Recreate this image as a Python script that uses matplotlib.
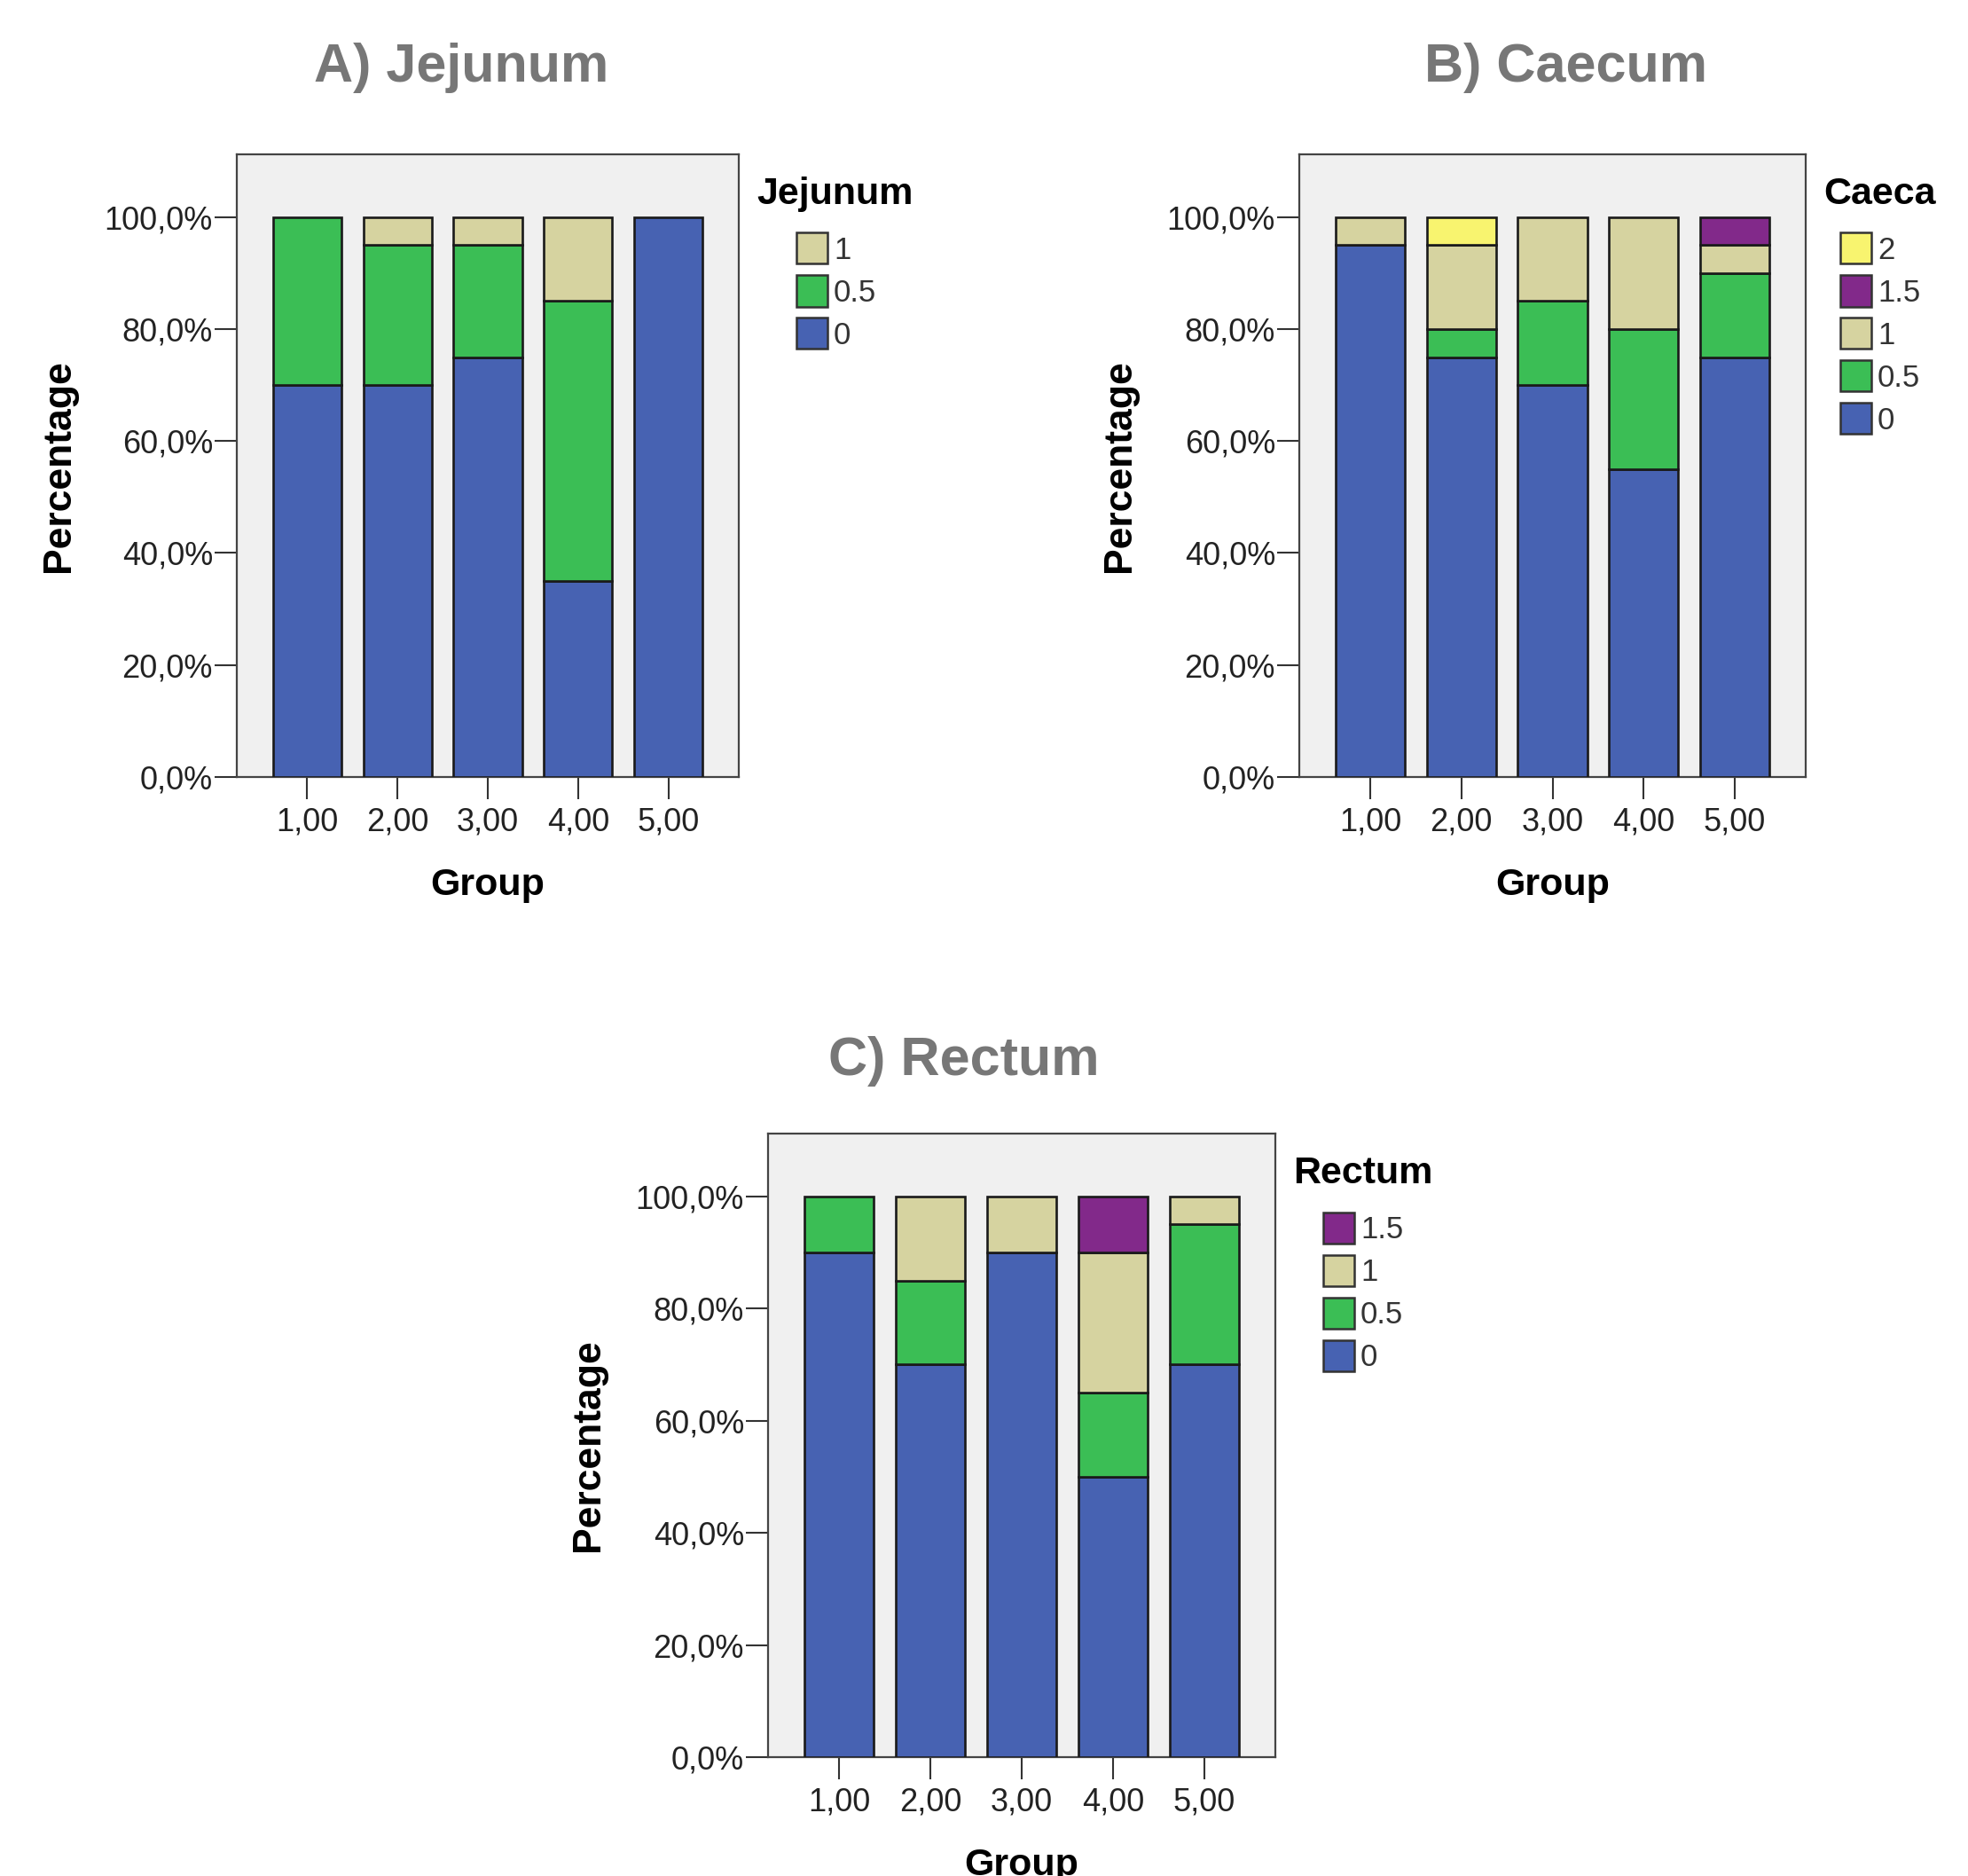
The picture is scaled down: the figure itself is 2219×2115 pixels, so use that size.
import numpy as np
import matplotlib
matplotlib.use('Agg')
import matplotlib.pyplot as plt
from matplotlib.patches import Rectangle

# data (percent of animals per score, per group)
groups = [1, 2, 3, 4, 5]
group_labels = ['1,00', '2,00', '3,00', '4,00', '5,00']
y_ticks = [0, 20, 40, 60, 80, 100]
y_tick_labels = ['0,0%', '20,0%', '40,0%', '60,0%', '80,0%', '100,0%']

jej_levels = ['0', '0.5', '1']
jej_0 = [70, 70, 75, 35, 100]
jej_05 = [30, 25, 20, 50, 0]
jej_1 = [0, 5, 5, 15, 0]

caeca_levels = ['0', '0.5', '1', '1.5', '2']
caeca_0 = [95, 75, 70, 55, 75]
caeca_05 = [0, 5, 15, 25, 15]
caeca_1 = [5, 15, 15, 20, 5]
caeca_15 = [0, 0, 0, 0, 5]
caeca_2 = [0, 5, 0, 0, 0]

rect_levels = ['0', '0.5', '1', '1.5']
rect_0 = [90, 70, 90, 50, 70]
rect_05 = [10, 15, 0, 15, 25]
rect_1 = [0, 15, 10, 25, 5]
rect_15 = [0, 0, 0, 10, 0]

level_colors = {'0': '#4762B2', '0.5': '#3BBE55', '1': '#D6D3A0',
                '1.5': '#82298A', '2': '#F8F46F'}

W, H = 2219, 2115
fig = plt.figure(figsize=(W / 100, H / 100), dpi=100)
fig.patch.set_facecolor('white')
plt.rcParams['font.family'] = ['Liberation Sans', 'DejaVu Sans']


def px_axes(left, right, top, bottom):
    return fig.add_axes([left / W, 1 - bottom / H, (right - left) / W, (bottom - top) / H])


def draw_panel(ax, title, title_xy, levels, series, leg_title, swatch_dx):
    bottom = np.zeros(len(groups))
    for lev, vals in zip(levels, series):
        vals = np.array(vals, dtype=float)
        idx = vals > 0
        ax.bar(np.array(groups)[idx], vals[idx], bottom=bottom[idx], width=0.76,
               color=level_colors[lev], edgecolor='#1a1a1a', linewidth=1.9, zorder=3)
        bottom += vals
    ax.set_facecolor('#F0F0F0')
    ax.set_xlim(0.22, 5.78)
    ax.set_ylim(0, 111.2)
    ax.set_xticks(groups)
    ax.set_xticklabels(group_labels)
    ax.set_yticks(y_ticks)
    ax.set_yticklabels(y_tick_labels, va='center_baseline')
    ax.tick_params(axis='both', length=18, width=1.5, color='#333333',
                   labelsize=26, labelcolor='#222222')
    ax.tick_params(axis='y', pad=1.5)
    ax.tick_params(axis='x', pad=6)
    for s in ax.spines.values():
        s.set_color('#444444')
        s.set_linewidth(1.6)
    ax.set_ylabel('Percentage', fontsize=32, fontweight='bold')
    ax.set_xlabel('Group', fontsize=31, fontweight='bold')
    ax.yaxis.set_label_coords(-0.318, 0.5)
    ax.xaxis.set_label_coords(0.5, -0.145)

    fig.text(title_xy[0] / W, 1 - title_xy[1] / H, title, fontsize=44,
             fontweight='bold', color='#777777', ha='center', va='baseline')

    # legend, drawn by hand so the title sits left of the swatches
    bb = ax.get_position()
    right = bb.x1 * W
    top = (1 - bb.y1) * H
    fig.text((right + 20) / W, 1 - (top + 56) / H, leg_title, fontsize=31,
             fontweight='bold', color='black', ha='left', va='baseline')
    for i, lev in enumerate(levels[::-1]):
        cy = top + 106 + 48 * i
        fig.add_artist(Rectangle(((right + swatch_dx) / W, 1 - (cy + 17.5) / H),
                                 35 / W, 35 / H, transform=fig.transFigure,
                                 facecolor=level_colors[lev], edgecolor='#333333',
                                 linewidth=1.8))
        fig.text((right + swatch_dx + 42) / W, 1 - (cy + 3) / H, lev, fontsize=25,
                 color='#333333', ha='left', va='center')


ax_a = px_axes(267, 833, 174, 876)
draw_panel(ax_a, 'A) Jejunum', (520, 92), jej_levels, [jej_0, jej_05, jej_1],
           'Jejunum', 65)

ax_b = px_axes(1465, 2036, 174, 876)
draw_panel(ax_b, 'B) Caecum', (1766, 92), caeca_levels,
           [caeca_0, caeca_05, caeca_1, caeca_15, caeca_2], 'Caeca', 39)

ax_c = px_axes(866, 1438, 1278, 1981)
draw_panel(ax_c, 'C) Rectum', (1087, 1212), rect_levels,
           [rect_0, rect_05, rect_1, rect_15], 'Rectum', 54)

fig.savefig('out.png', dpi=100)
